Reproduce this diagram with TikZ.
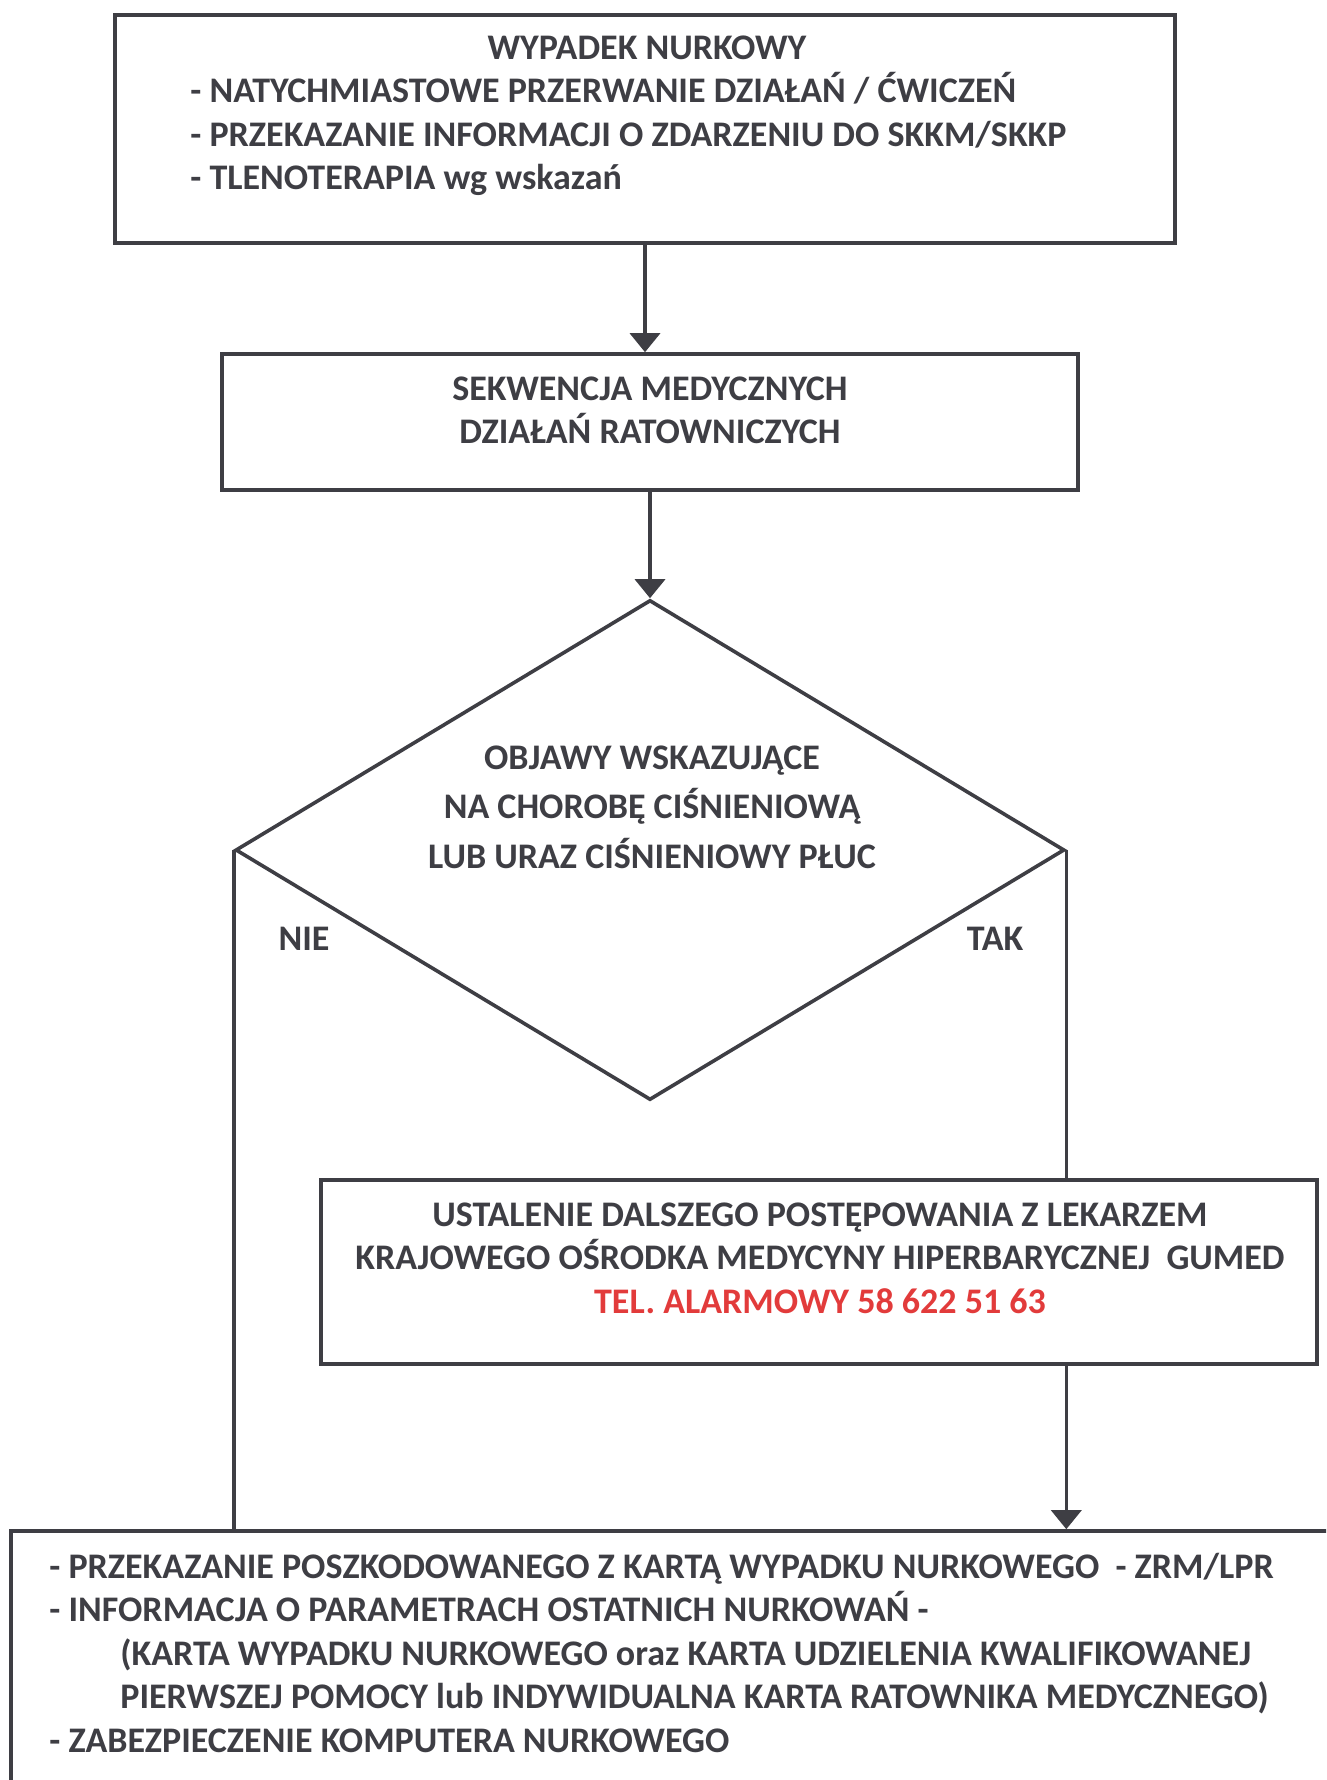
\documentclass[tikz,border=0pt]{standalone}
\usepackage{fontspec}
\setmainfont{Carlito}
\usetikzlibrary{shapes.geometric, arrows.meta}
\definecolor{ink}{HTML}{3E3E44}
\definecolor{alarm}{HTML}{E23B3B}
\tikzset{
  box/.style = {draw = ink, line width = 1.8pt, inner sep = 0pt},
  txt/.style = {text = ink, inner sep = 0pt, font = \bfseries\fontsize{18}{21.75}\selectfont},
  flow/.style = {draw = ink, line width = 1.8pt},
  arr/.style = {flow, -{Triangle[length = 9.5pt, width = 15pt]}}
}

\begin{document}
\begin{tikzpicture}[x = 0.5pt, y = -0.5pt]
\clip (0,0) rectangle (1326,1780);
\fill[white] (0,0) rectangle (1326,1780);
\node[box, minimum width = 530pt, minimum height = 114pt] (wypadek) at (645,129) {};
\node[box, minimum width = 428pt, minimum height = 68pt] (sekwencja) at (650,422) {};
\node[box, diamond, minimum width = 414.5pt, minimum height = 250pt] (objawy) at (650,850) {};
\node[box, minimum width = 498pt, minimum height = 92pt] (ustalenie) at (819,1272) {};
\node[box, minimum width = 674.5pt, minimum height = 149.5pt] (przekazanie) at (685.5,1680.5) {};
% teksty (base = linia bazowa ostatniego wiersza)
\node[txt, anchor = base] (tytul) at (647,60) {WYPADEK NURKOWY};
\node[txt, anchor = base west, align = left] (dzialania) at (190,190)
  {- NATYCHMIASTOWE PRZERWANIE DZIAŁAŃ / ĆWICZEŃ\\
   - PRZEKAZANIE INFORMACJI O ZDARZENIU DO SKKM/SKKP\\
   - TLENOTERAPIA wg wskazań};
\node[txt, anchor = base, align = center] (sekwencjatxt) at (650,444)
  {SEKWENCJA MEDYCZNYCH\\DZIAŁAŃ RATOWNICZYCH};
\node[txt, anchor = base, align = center, font = \bfseries\fontsize{18}{24.75}\selectfont] (objawytxt) at (652,868)
  {OBJAWY WSKAZUJĄCE\\NA CHOROBĘ CIŚNIENIOWĄ\\LUB URAZ CIŚNIENIOWY PŁUC};
\node[txt, anchor = base] (nie) at (304,950) {NIE};
\node[txt, anchor = base] (tak) at (995,950) {TAK};
\node[txt, anchor = base, align = center] (ustalenietxt) at (820,1313)
  {USTALENIE DALSZEGO POSTĘPOWANIA Z LEKARZEM\\
   KRAJOWEGO OŚRODKA MEDYCYNY HIPERBARYCZNEJ\ \ GUMED\\
   \textcolor{alarm}{TEL. ALARMOWY 58 622 51 63}};
\node[txt, anchor = base west, align = left] (przekazanietxt) at (49,1752)
  {- PRZEKAZANIE POSZKODOWANEGO Z KARTĄ WYPADKU NURKOWEGO\ \ - ZRM/LPR\\
   - INFORMACJA O PARAMETRACH OSTATNICH NURKOWAŃ -\\
   \hspace*{35.5pt}(KARTA WYPADKU NURKOWEGO oraz KARTA UDZIELENIA KWALIFIKOWANEJ\\
   \hspace*{35.5pt}PIERWSZEJ POMOCY lub INDYWIDUALNA KARTA RATOWNIKA MEDYCZNEGO)\\
   - ZABEZPIECZENIE KOMPUTERA NURKOWEGO};
% polaczenia
\draw[arr] (wypadek.south) -- (wypadek.south |- sekwencja.north);
\draw[arr] (sekwencja.south) -- (objawy.north);
\draw[flow] (objawy.west) -- (objawy.west |- przekazanie.north);
\draw[flow] (objawy.east) -- (objawy.east |- ustalenie.north);
\draw[arr] (ustalenie.south -| objawy.east) -- (objawy.east |- przekazanie.north);
\end{tikzpicture}
\end{document}
